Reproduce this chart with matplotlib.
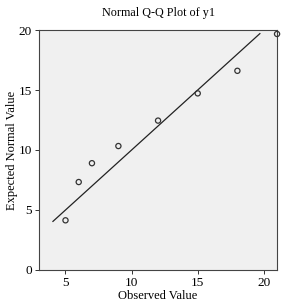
import matplotlib
matplotlib.use("Agg")
import matplotlib.pyplot as plt

observed = [5, 6, 7, 9, 12, 15, 18, 21]
expected = [4.14, 7.33, 8.9, 10.33, 12.45, 14.72, 16.6, 19.67]
line_x = [4.05, 19.7]
line_y = [4.05, 19.7]
xticks = [5, 10, 15, 20]
yticks = [0, 5, 10, 15, 20]

plt.rcParams['font.family'] = ['Liberation Serif', 'DejaVu Serif']
fig = plt.figure(figsize=(2.83, 3.05), dpi=100)
ax = fig.add_axes([0.138, 0.1148, 0.841, 0.7868])
ax.set_facecolor('#f0f0f0')
ax.plot(line_x, line_y, color='#222222', lw=0.9)
ax.scatter(observed, expected, s=14, facecolors='none', edgecolors='#333333', linewidths=0.9, zorder=3, clip_on=False)
ax.set_xlim(3, 21)
ax.set_ylim(0, 20)
ax.set_xticks(xticks)
ax.set_yticks(yticks)
ax.tick_params(length=3, width=0.7, labelsize=9.5, color='#333333', pad=2)
for s in ax.spines.values():
    s.set_color('#444444')
    s.set_linewidth(0.8)
ax.set_xlabel('Observed Value', fontsize=9, labelpad=1)
ax.set_ylabel('Expected Normal Value', fontsize=9)
ax.yaxis.set_label_coords(-0.09, 0.5)
ax.set_title('Normal Q-Q Plot of y1', fontsize=8.7, pad=10)
fig.savefig('out.png', dpi=100, facecolor='white')
